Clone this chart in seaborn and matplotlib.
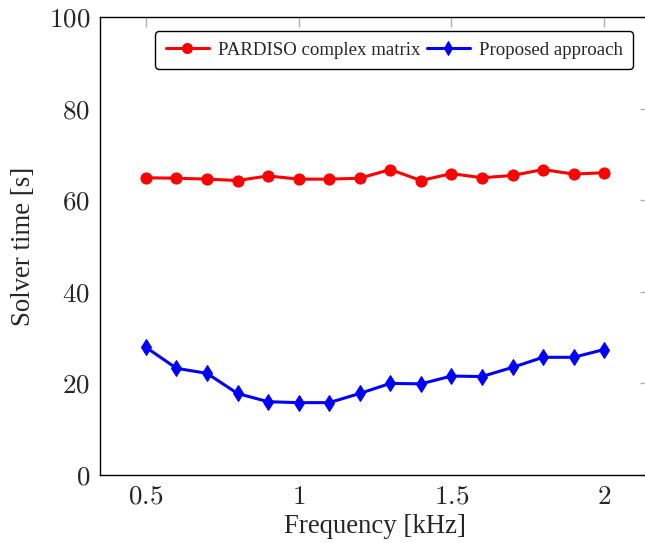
import matplotlib
matplotlib.use("Agg")
import matplotlib.pyplot as plt
import seaborn as sns
import pandas as pd

freq = [0.5, 0.6, 0.7, 0.8, 0.9, 1.0, 1.1, 1.2, 1.3, 1.4, 1.5, 1.6, 1.7, 1.8, 1.9, 2.0]
pardiso = [64.9, 64.8, 64.6, 64.3, 65.3, 64.6, 64.6, 64.8, 66.7, 64.3, 65.8, 64.9, 65.4, 66.7, 65.7, 66.0]
proposed = [27.9, 23.3, 22.2, 17.8, 16.0, 15.8, 15.8, 17.8, 20.0, 19.9, 21.6, 21.5, 23.5, 25.7, 25.7, 27.4]
xticks = [0.5, 1.0, 1.5, 2.0]
xticklabels = ["0.5", "1", "1.5", "2"]
yticks = [0, 20, 40, 60, 80, 100]

sns.set_style("white")
plt.rcParams["font.family"] = ["Liberation Serif", "DejaVu Serif"]
plt.rcParams["mathtext.fontset"] = "cm"

fig = plt.figure(figsize=(6.45, 5.43), dpi=100)
ax = fig.add_axes([100 / 645, 68 / 543, 550 / 645, 458 / 543])

sns.lineplot(x=freq, y=pardiso, ax=ax, color="#ff0000", marker="o", markersize=8,
             markeredgecolor="#ff0000", linewidth=2.2, label="PARDISO complex matrix")
sns.lineplot(x=freq, y=proposed, ax=ax, color="#0000ff", marker="d", markersize=8,
             markeredgecolor="#0000ff", linewidth=2.2, label="Proposed approach")

ax.set_xlim(0.35, 2.15)
ax.set_ylim(0, 100)
ax.set_xticks(xticks)
ax.set_xticklabels([f"${t}$" for t in xticklabels])
ax.set_yticks(yticks)
ax.set_yticklabels([f"${t}$" for t in yticks])
ax.tick_params(direction="in", length=7, width=1, color="#b0b0b0", labelsize=19.5,
               top=True, right=True, pad=7)
for s in ax.spines.values():
    s.set_color("black")
    s.set_linewidth(1.0)

ax.set_xlabel("Frequency [kHz]", fontsize=19.3, labelpad=3)
ax.set_ylabel("Solver time [s]", fontsize=19.3, labelpad=9)

leg = ax.legend(loc="upper right", bbox_to_anchor=(0.969, 0.969), ncol=2, fontsize=13.6,
                frameon=True, fancybox=True, edgecolor="black", handlelength=2.3,
                columnspacing=0.35, handletextpad=0.45, borderpad=0.55, markerscale=0.9,
                borderaxespad=0)
leg.get_frame().set_linewidth(1.0)
leg.get_frame().set_alpha(1)

fig.savefig("out.png", dpi=100)
